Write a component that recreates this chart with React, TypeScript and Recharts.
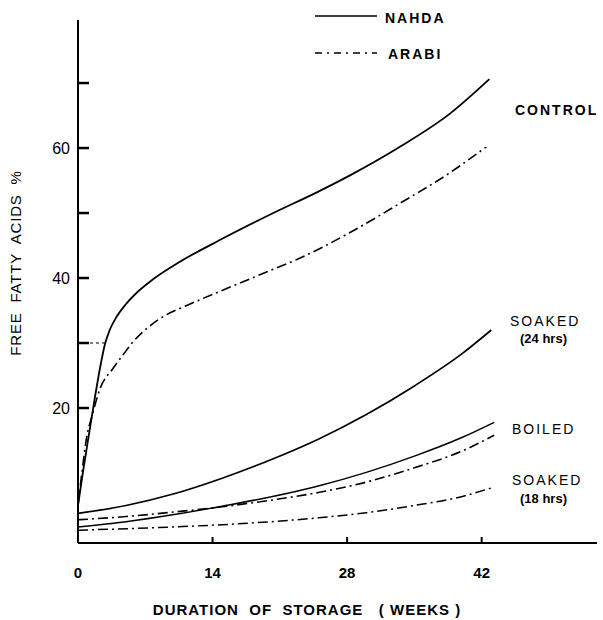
import React from 'react';
import { LineChart, Line, XAxis, YAxis, ReferenceLine } from 'recharts';

// weeks of storage vs free fatty acids (%)
const controlNahdaWeeks = [0, 0.5, 1.2, 1.8, 2.4, 2.8, 3.3, 4, 5, 6.3, 7.8, 10.6, 14.7, 19.9, 25, 28.3, 33.5, 38.7, 42.8];
const controlNahdaFFA = [5, 10, 16.5, 22, 27, 29.8, 32, 34, 36, 38, 39.8, 42.5, 45.8, 49.7, 53.3, 55.8, 60.2, 65.3, 70.6];

const controlArabiWeeks = [0, 0.4, 0.9, 1.5, 2.3, 3.6, 4.6, 5.8, 7.2, 8.8, 11.5, 14.7, 19.9, 23, 28.3, 33.5, 38.7, 42.5];
const controlArabiFFA = [5, 10, 15.5, 19, 23, 26, 28, 30.3, 32.3, 34, 35.9, 37.9, 41.1, 43, 47, 51.5, 56.2, 60.2];

const soaked24NahdaWeeks = [0, 5, 10, 15, 20, 25, 30, 35, 40, 43];
const soaked24NahdaFFA = [3.8, 5, 6.8, 9.2, 12, 15.2, 19, 23.4, 28.4, 32];

const boiledNahdaWeeks = [0, 5, 10, 15, 20, 25, 30, 35, 40, 43.3];
const boiledNahdaFFA = [1.7, 2.5, 3.6, 4.9, 6.3, 8, 10.1, 12.6, 15.5, 17.8];

const boiledArabiWeeks = [0, 5, 10, 15, 20, 25, 30, 35, 40, 43.3];
const boiledArabiFFA = [2.8, 3.3, 4, 4.8, 5.8, 7, 8.6, 10.8, 13.4, 15.8];

const soaked18ArabiWeeks = [0, 10, 20, 25, 30, 35, 40, 43];
const soaked18ArabiFFA = [1.2, 1.7, 2.5, 3.1, 3.9, 5, 6.4, 7.7];

const xTicks = [0, 14, 28, 42];
const yTicks = [20, 30, 40, 50, 60, 70];
const yLabelled = [20, 40, 60];

const toRows = (weeks: number[], ffa: number[]) => weeks.map((w, i) => ({ week: w, ffa: ffa[i] }));

const FONT = '"Liberation Sans", Arial, sans-serif';
const DASH_DOT = '10 4 2 4';

const YTick = ({ x, y, payload }: any) => (
  <g>
    <line x1={x} x2={x + 11} y1={y} y2={y} stroke="#000" strokeWidth={2.5} />
    {yLabelled.includes(payload.value) && (
      <text x={x - 8} y={y + 6} textAnchor="end" fontSize={16} fontFamily={FONT} fill="#000">
        {payload.value}
      </text>
    )}
  </g>
);

const XTick = ({ x, y, payload }: any) => (
  <g>
    {payload.value !== 0 && <line x1={x} x2={x} y1={y} y2={y - 6} stroke="#000" strokeWidth={2} />}
    <text x={x} y={y + 35} textAnchor="middle" fontSize={15} fontWeight="bold" fontFamily={FONT} fill="#000">
      {payload.value}
    </text>
  </g>
);

export default function App() {
  const common = { type: 'monotone' as const, dataKey: 'ffa', dot: false, isAnimationActive: false, stroke: '#000' };

  return (
    <div style={{ position: 'absolute', left: 0, top: 0, width: 603, height: 620, background: '#fff' }}>
      <LineChart width={603} height={620} margin={{ top: 20, right: 6, left: 0, bottom: 0 }}>
        <XAxis
          type="number"
          dataKey="week"
          domain={[0, 54]}
          ticks={xTicks}
          allowDataOverflow
          height={77}
          tickSize={0}
          tickMargin={0}
          tick={<XTick />}
          axisLine={{ stroke: '#000', strokeWidth: 2 }}
        />
        <YAxis
          type="number"
          domain={[-0.77, 79.7]}
          ticks={yTicks}
          allowDataOverflow
          width={78}
          tickSize={0}
          tickMargin={0}
          tick={<YTick />}
          axisLine={{ stroke: '#000', strokeWidth: 2 }}
        />
        <ReferenceLine
          segment={[{ x: 0, y: 30 }, { x: 2.8, y: 30 }]}
          stroke="#000"
          strokeWidth={1.2}
          strokeDasharray="3 3"
        />
        <Line {...common} data={toRows(controlNahdaWeeks, controlNahdaFFA)} strokeWidth={1.8} />
        <Line {...common} data={toRows(controlArabiWeeks, controlArabiFFA)} strokeWidth={1.6} strokeDasharray={DASH_DOT} />
        <Line {...common} data={toRows(soaked24NahdaWeeks, soaked24NahdaFFA)} strokeWidth={1.7} />
        <Line {...common} data={toRows(boiledNahdaWeeks, boiledNahdaFFA)} strokeWidth={1.5} />
        <Line {...common} data={toRows(boiledArabiWeeks, boiledArabiFFA)} strokeWidth={1.6} strokeDasharray={DASH_DOT} />
        <Line {...common} data={toRows(soaked18ArabiWeeks, soaked18ArabiFFA)} strokeWidth={1.5} strokeDasharray={DASH_DOT} />
      </LineChart>

      <svg
        width={603}
        height={620}
        style={{ position: 'absolute', left: 0, top: 0, pointerEvents: 'none' }}
        fontFamily={FONT}
      >
        {/* legend */}
        <line x1={315} x2={377} y1={16} y2={16} stroke="#000" strokeWidth={1.5} />
        <text x={385} y={23} fontSize={14} fontWeight="bold" letterSpacing={2}>NAHDA</text>
        <line x1={315} x2={377} y1={53} y2={53} stroke="#000" strokeWidth={1.5} strokeDasharray="7 5 2 5" />
        <text x={388} y={59} fontSize={14} fontWeight="bold" letterSpacing={2}>ARABI</text>

        {/* curve labels */}
        <text x={515} y={115} fontSize={14} fontWeight="bold" letterSpacing={2}>CONTROL</text>
        <text x={510} y={326} fontSize={14} letterSpacing={2}>SOAKED</text>
        <text x={520} y={343} fontSize={13} fontWeight="bold">(24 hrs)</text>
        <text x={512} y={434} fontSize={14} letterSpacing={2}>BOILED</text>
        <text x={512} y={485} fontSize={14} letterSpacing={2}>SOAKED</text>
        <text x={520} y={503} fontSize={13} fontWeight="bold">(18 hrs)</text>

        {/* axis titles */}
        <text x={307} y={615} fontSize={15} fontWeight="bold" letterSpacing={1} textAnchor="middle" style={{ whiteSpace: 'pre' }}>
          {'DURATION  OF  STORAGE   ( WEEKS )'}
        </text>
        <text
          x={0}
          y={0}
          fontSize={15}
          letterSpacing={0.8}
          textAnchor="middle"
          transform="translate(21 263) rotate(-90)"
          style={{ whiteSpace: 'pre' }}
        >
          {'FREE  FATTY  ACIDS  %'}
        </text>
      </svg>
    </div>
  );
}
